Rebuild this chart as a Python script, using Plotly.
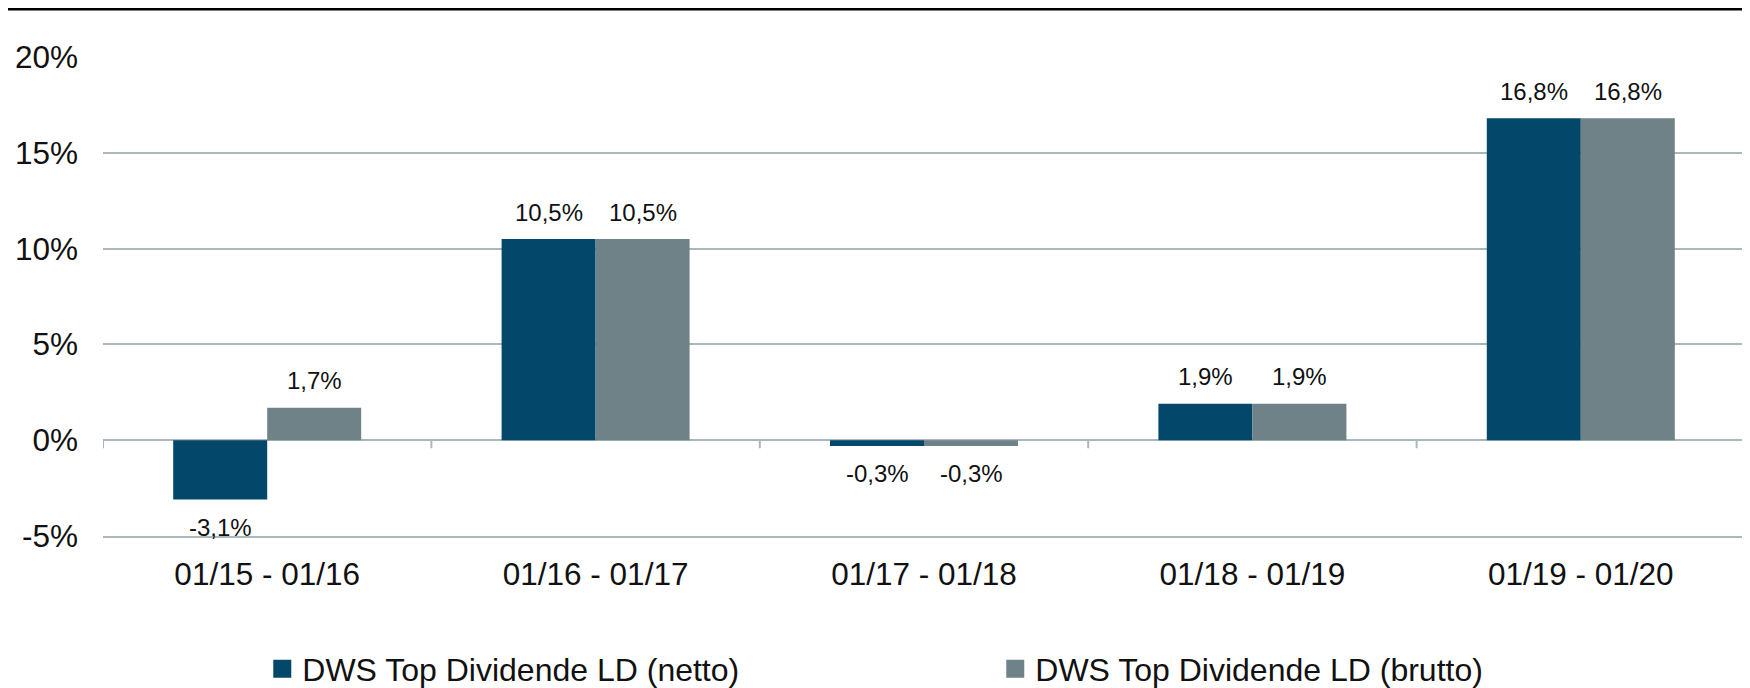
import plotly.graph_objects as go

categories = ["01/15 - 01/16", "01/16 - 01/17", "01/17 - 01/18", "01/18 - 01/19", "01/19 - 01/20"]
netto = [-3.1, 10.5, -0.3, 1.9, 16.8]
brutto = [1.7, 10.5, -0.3, 1.9, 16.8]
series_names = ["DWS Top Dividende LD (netto)", "DWS Top Dividende LD (brutto)"]
y_ticks = [-5, 0, 5, 10, 15, 20]
y_ticklabels = ["-5%", "0%", "5%", "10%", "15%", "20%"]

colors = ["#03486a", "#6e8287"]
grid_col = "#a9b8bb"
FONT = "Liberation Sans, Arial, sans-serif"
BARGAP = 0.4275
W, H = 1742, 680
ML, MR, MT, MB = 95, 5, 49, 152
PH = H - MT - MB
PW = W - ML - MR

fig = go.Figure()
for name, vals, col in zip(series_names, [netto, brutto], colors):
    fig.add_trace(go.Bar(x=categories, y=vals, name=name, showlegend=False,
                         marker=dict(color=col, line=dict(width=0))))
# legend entries (square swatches)
for name, col in zip(series_names, colors):
    fig.add_trace(go.Scatter(x=[None], y=[None], mode="markers", name=name,
                             marker=dict(symbol="square", size=16, color=col,
                                         line=dict(color=col, width=2))))

def fmt(v):
    return ("%.1f" % v).replace(".", ",") + "%"

half = (1 - BARGAP) / 4
annotations = []
for s, vals in enumerate([netto, brutto]):
    off = -half if s == 0 else half
    for i, v in enumerate(vals):
        annotations.append(dict(
            x=i + off, y=v, xref="x", yref="y", text=fmt(v), showarrow=False,
            yanchor="middle", yshift=27 if v >= 0 else -28,
            font=dict(family=FONT, size=24, color="#111111")))

top_y = 1 + (MT - 1.3) / PH
shapes = [dict(type="line", xref="paper", yref="paper", x0=-ML / PW, x1=1.0,
               y0=top_y, y1=top_y, line=dict(color="#000000", width=2.6))]
for i in range(len(categories) + 1):
    shapes.append(dict(type="line", xref="x", yref="y", ysizemode="pixel", yanchor=0,
                       x0=i - 0.5, x1=i - 0.5, y0=0, y1=-8,
                       line=dict(color=grid_col, width=2)))

fig.update_layout(
    width=W, height=H,
    margin=dict(l=ML, r=MR, t=MT, b=MB),
    paper_bgcolor="white", plot_bgcolor="white",
    barmode="group", bargap=BARGAP, bargroupgap=0,
    font=dict(family=FONT, size=31, color="#111111"),
    xaxis=dict(showgrid=False, showline=True, linecolor=grid_col, linewidth=2,
               ticks="", tickfont=dict(size=31.5), ticklabelstandoff=9,
               range=[-0.5, len(categories) - 0.5]),
    yaxis=dict(range=[-5, 20], tickvals=y_ticks, ticktext=y_ticklabels,
               showgrid=True, gridcolor=grid_col, gridwidth=2,
               zeroline=True, zerolinecolor=grid_col, zerolinewidth=2,
               showline=False, ticks="", tickfont=dict(size=31.5), ticklabelstandoff=24),
    legend=dict(orientation="h", x=0.097, xanchor="left", yref="container", y=1 - 661 / H,
                yanchor="middle", entrywidth=688, font=dict(size=32),
                itemclick=False, bgcolor="rgba(0,0,0,0)"),
    annotations=annotations,
    shapes=shapes,
    showlegend=True,
)

fig.write_html("out.html")
